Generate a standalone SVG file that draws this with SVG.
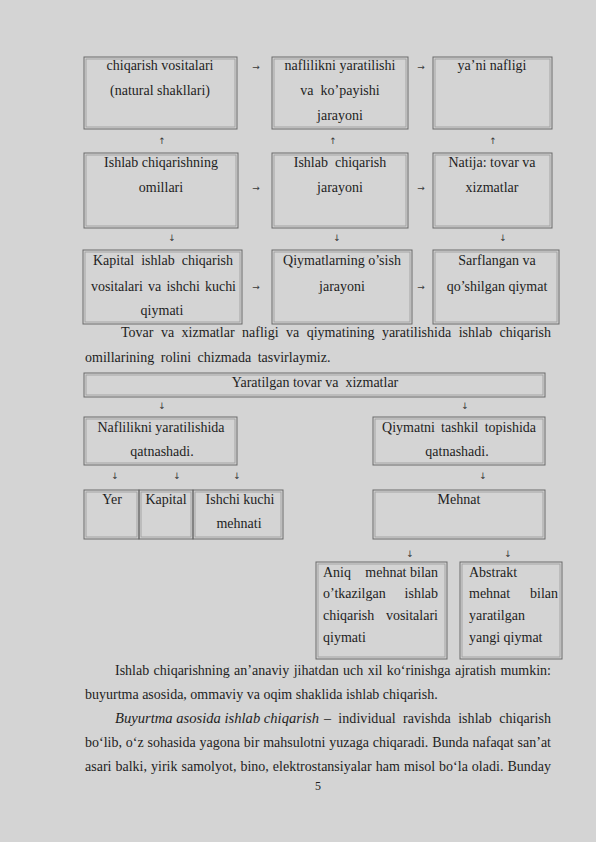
<svg xmlns="http://www.w3.org/2000/svg" width="596" height="842" viewBox="0 0 596 842">
<style>
  text { font-family: "Liberation Serif", "Times New Roman", serif; font-size: 14px; fill: #1e1e1e; }
  .c { text-anchor: middle; }
  .e { text-anchor: end; }
  .ar { font-family: "DejaVu Sans", sans-serif; font-size: 9px; text-anchor: middle; fill: #3a3a3a; }
  .b { fill: none; stroke: #6a6a6a; stroke-width: 1; }
  .bi { fill: none; stroke: #9a9a9a; stroke-width: 0.8; }
  .it { font-style: italic; }
</style>
<rect x="0" y="0" width="596" height="842" fill="#d4d4d4"/>

<!-- Diagram 1 -->
<g id="n1a"><rect class="b" x="84" y="57" width="153" height="72"/><rect class="bi" x="86" y="59" width="149" height="68"/>
  <text class="c" x="160" y="70">chiqarish vositalari</text>
  <text class="c" x="160" y="95">(natural shakllari)</text></g>
<g id="n1b"><rect class="b" x="272" y="57" width="136" height="72"/><rect class="bi" x="274" y="59" width="132" height="68"/>
  <text class="c" x="340" y="70">naflilikni yaratilishi</text>
  <text class="c" x="340" y="95" xml:space="preserve">va  ko’payishi</text>
  <text class="c" x="340" y="120">jarayoni</text></g>
<g id="n1c"><rect class="b" x="433" y="57" width="119" height="72"/><rect class="bi" x="435" y="59" width="115" height="68"/>
  <text class="c" x="492" y="70">ya’ni nafligi</text></g>

<g id="n2a"><rect class="b" x="84" y="153" width="154" height="75"/><rect class="bi" x="86" y="155" width="150" height="71"/>
  <text class="c" x="161" y="167">Ishlab chiqarishning</text>
  <text class="c" x="161" y="192">omillari</text></g>
<g id="n2b"><rect class="b" x="272" y="153" width="136" height="75"/><rect class="bi" x="274" y="155" width="132" height="71"/>
  <text class="c" x="340" y="167" xml:space="preserve">Ishlab  chiqarish</text>
  <text class="c" x="340" y="192">jarayoni</text></g>
<g id="n2c"><rect class="b" x="433" y="153" width="119" height="75"/><rect class="bi" x="435" y="155" width="115" height="71"/>
  <text class="c" x="492" y="167">Natija: tovar va</text>
  <text class="c" x="492" y="192">xizmatlar</text></g>

<g id="n3a"><rect class="b" x="83" y="250" width="159" height="74"/><rect class="bi" x="85" y="252" width="155" height="70"/>
  <text x="93" y="265" word-spacing="3.5" textLength="140" lengthAdjust="spacing">Kapital ishlab chiqarish</text>
  <text x="91" y="291" word-spacing="1.8" textLength="145" lengthAdjust="spacing">vositalari va ishchi kuchi</text>
  <text class="c" x="162" y="315">qiymati</text></g>
<g id="n3b"><rect class="b" x="272" y="250" width="140" height="74"/><rect class="bi" x="274" y="252" width="136" height="70"/>
  <text class="c" x="342" y="265">Qiymatlarning o’sish</text>
  <text class="c" x="342" y="291">jarayoni</text></g>
<g id="n3c"><rect class="b" x="433" y="250" width="126" height="74"/><rect class="bi" x="435" y="252" width="122" height="70"/>
  <text class="c" x="497" y="265">Sarflangan va</text>
  <text class="c" x="497" y="291">qo’shilgan qiymat</text></g>

<g id="connectors">
  <text class="ar" x="256" y="70">→</text>
  <text class="ar" x="421" y="70">→</text>
  <text class="ar" x="162" y="144">↑</text>
  <text class="ar" x="333" y="144">↑</text>
  <text class="ar" x="493" y="144">↑</text>
  <text class="ar" x="256" y="191">→</text>
  <text class="ar" x="421" y="191">→</text>
  <text class="ar" x="172" y="241">↓</text>
  <text class="ar" x="337" y="241">↓</text>
  <text class="ar" x="503" y="241">↓</text>
  <text class="ar" x="256" y="290">→</text>
  <text class="ar" x="421" y="290">→</text>
  <text class="ar" x="162" y="409">↓</text>
  <text class="ar" x="465" y="409">↓</text>
  <text class="ar" x="115" y="479">↓</text>
  <text class="ar" x="177" y="479">↓</text>
  <text class="ar" x="237" y="479">↓</text>
  <text class="ar" x="483" y="479">↓</text>
  <text class="ar" x="410" y="557">↓</text>
  <text class="ar" x="508" y="557">↓</text>
</g>

<!-- Paragraph 1 -->
<text x="121" y="337" word-spacing="3.9" textLength="430" lengthAdjust="spacing">Tovar va xizmatlar nafligi va qiymatining yaratilishida ishlab chiqarish</text>
<text x="85" y="362" word-spacing="3">omillarining rolini chizmada tasvirlaymiz.</text>

<!-- Diagram 2 -->
<g id="m1"><rect class="b" x="84" y="373" width="461" height="24"/><rect class="bi" x="86" y="375" width="457" height="20"/>
  <text class="c" x="315" y="387" xml:space="preserve">Yaratilgan tovar va  xizmatlar</text></g>
<g id="m2a"><rect class="b" x="84" y="417" width="153" height="48"/><rect class="bi" x="86" y="419" width="149" height="44"/>
  <text class="c" x="161" y="432">Naflilikni yaratilishida</text>
  <text class="c" x="162" y="456">qatnashadi.</text></g>
<g id="m2b"><rect class="b" x="373" y="417" width="172" height="48"/><rect class="bi" x="375" y="419" width="168" height="44"/>
  <text x="382" y="432" word-spacing="2.7" textLength="154" lengthAdjust="spacing">Qiymatni tashkil topishida</text>
  <text class="c" x="457" y="456">qatnashadi.</text></g>
<g id="m3yer"><rect class="b" x="84" y="490" width="55" height="49"/><rect class="bi" x="86" y="492" width="51" height="45"/>
  <text class="c" x="112" y="504">Yer</text></g>
<g id="m3kap"><rect class="b" x="139" y="490" width="54" height="49"/><rect class="bi" x="141" y="492" width="50" height="45"/>
  <text class="c" x="166" y="504">Kapital</text></g>
<g id="m3ish"><rect class="b" x="193" y="490" width="90" height="49"/><rect class="bi" x="195" y="492" width="86" height="45"/>
  <text class="c" x="240" y="504">Ishchi kuchi</text>
  <text class="c" x="239" y="528">mehnati</text></g>
<g id="m3meh"><rect class="b" x="373" y="490" width="172" height="49"/><rect class="bi" x="375" y="492" width="168" height="45"/>
  <text class="c" x="459" y="504">Mehnat</text></g>
<g id="m4a"><rect class="b" x="316" y="562" width="131" height="97"/><rect class="bi" x="318" y="564" width="127" height="93"/>
  <text x="323" y="577">Aniq</text><text class="e" x="438" y="577">mehnat bilan</text>
  <text x="323" y="598">o’tkazilgan</text><text class="e" x="438" y="598">ishlab</text>
  <text x="323" y="620">chiqarish</text><text class="e" x="438" y="620">vositalari</text>
  <text x="323" y="642">qiymati</text></g>
<g id="m4b"><rect class="b" x="460" y="562" width="102" height="97"/><rect class="bi" x="462" y="564" width="98" height="93"/>
  <text x="469" y="577">Abstrakt</text>
  <text x="469" y="598">mehnat</text><text class="e" x="558" y="598">bilan</text>
  <text x="469" y="620">yaratilgan</text>
  <text x="469" y="642">yangi qiymat</text></g>

<!-- Paragraph 2 -->
<text x="115" y="675" word-spacing="0.9" textLength="436" lengthAdjust="spacing">Ishlab chiqarishning an’anaviy jihatdan uch xil ko‘rinishga ajratish mumkin:</text>
<text x="85" y="699">buyurtma asosida, ommaviy va oqim shaklida ishlab chiqarish.</text>
<text class="it" x="115" y="723" textLength="204" lengthAdjust="spacingAndGlyphs">Buyurtma asosida ishlab chiqarish</text>
<text x="324" y="723" word-spacing="3.7" textLength="227" lengthAdjust="spacing">– individual ravishda ishlab chiqarish</text>
<text x="85" y="747" word-spacing="0.3" textLength="466" lengthAdjust="spacing">bo‘lib, o‘z sohasida yagona bir mahsulotni yuzaga chiqaradi. Bunda nafaqat san’at</text>
<text x="85" y="771" word-spacing="0.5" textLength="466" lengthAdjust="spacing">asari balki, yirik samolyot, bino, elektrostansiyalar ham misol bo‘la oladi. Bunday</text>
<text class="c" x="318" y="790" style="font-size:12px">5</text>
</svg>
